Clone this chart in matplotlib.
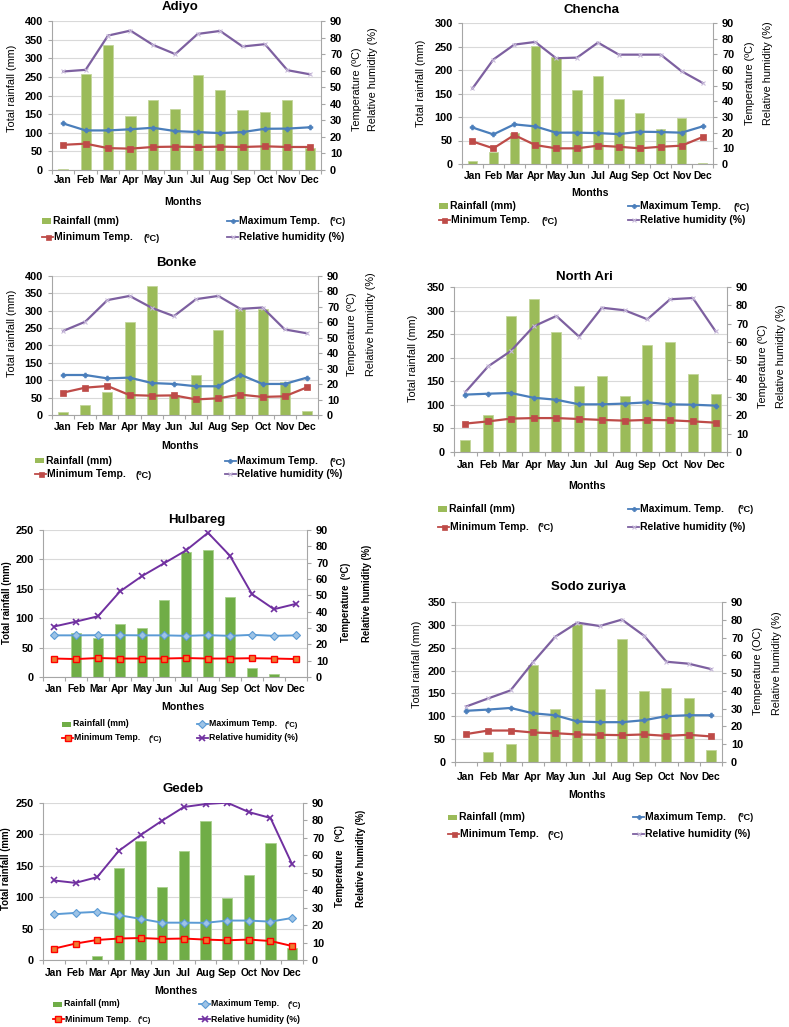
import matplotlib
matplotlib.use('Agg')
import matplotlib.pyplot as plt
from matplotlib.lines import Line2D
from matplotlib.patches import Rectangle
import numpy as np

W, H = 789, 1027
plt.rcParams['font.family'] = ['Liberation Sans', 'DejaVu Sans']

months = ['Jan', 'Feb', 'Mar', 'Apr', 'May', 'Jun', 'Jul', 'Aug', 'Sep', 'Oct', 'Nov', 'Dec']

adiyo_rain = [3, 259, 335, 145, 189, 165, 254, 216, 161, 157, 187, 58]
adiyo_tmax = [28.1, 23.9, 23.9, 24.6, 25.5, 23.5, 22.9, 22.3, 22.9, 24.9, 25.0, 25.8]
adiyo_tmin = [15.2, 15.9, 13.2, 12.9, 13.9, 14.1, 13.9, 14.1, 13.9, 14.3, 13.9, 13.9]
adiyo_rh = [59.5, 60.5, 81.2, 84.2, 75.6, 70.0, 82.2, 84.0, 74.6, 76.0, 60.3, 57.8]

chencha_rain = [6, 26, 67, 252, 228, 158, 187, 139, 109, 75, 97, 3]
chencha_tmax = [23.3, 18.9, 25.3, 24.0, 20.0, 20.0, 19.7, 19.1, 20.6, 20.4, 20.0, 24.0]
chencha_tmin = [14.4, 10.0, 18.5, 12.1, 10.0, 10.0, 11.7, 11.0, 10.0, 11.0, 11.7, 17.2]
chencha_rh = [48.2, 66.7, 76.2, 77.9, 67.5, 67.9, 77.5, 69.8, 69.8, 69.8, 59.2, 51.8]

bonke_rain = [8, 29, 65, 268, 370, 58, 114, 245, 304, 304, 94, 12]
bonke_tmax = [25.9, 25.9, 23.7, 24.2, 20.7, 20.1, 18.6, 18.6, 26.1, 20.1, 20.1, 24.2]
bonke_tmin = [14.5, 17.7, 18.8, 12.9, 12.5, 12.7, 10.1, 10.8, 13.2, 11.7, 12.1, 17.9]
bonke_rh = [54.4, 60.4, 74.4, 77.1, 69.4, 64.0, 75.0, 77.1, 68.7, 69.6, 55.4, 52.9]

north_ari_rain = [25, 79, 288, 325, 255, 140, 161, 118, 228, 233, 166, 122]
north_ari_tmax = [31.3, 31.8, 32.2, 29.6, 28.5, 26.0, 26.0, 26.4, 27.1, 26.0, 25.8, 25.3]
north_ari_tmin = [15.5, 16.7, 18.2, 18.5, 18.5, 18.0, 17.5, 17.1, 17.5, 17.3, 16.7, 16.0]
north_ari_rh = [32.7, 46.7, 55.1, 68.5, 74.2, 62.9, 78.7, 77.3, 72.4, 83.3, 84.0, 65.8]

hulbareg_rain = [0, 74, 66, 90, 83, 131, 213, 216, 136, 15, 4.5, 0]
hulbareg_tmax = [25.5, 25.5, 25.6, 25.6, 25.5, 25.5, 25.2, 25.6, 25.2, 25.8, 25.2, 25.5]
hulbareg_tmin = [11.3, 11.0, 11.6, 11.3, 11.3, 11.3, 11.6, 11.3, 11.3, 11.5, 11.3, 11.0]
hulbareg_rh = [30.9, 33.9, 37.2, 52.4, 61.8, 69.6, 77.5, 88.3, 74.2, 50.7, 41.5, 44.8]

sodo_rain = [0, 21, 40, 212, 116, 301, 160, 270, 155, 161, 140, 26]
sodo_tmax = [28.8, 29.5, 30.4, 27.4, 26.3, 22.8, 22.4, 22.4, 23.5, 25.8, 26.3, 26.3]
sodo_tmin = [15.7, 17.7, 17.7, 16.6, 16.2, 15.5, 15.3, 15.1, 15.5, 14.7, 15.3, 14.4]
sodo_rh = [31.2, 35.8, 40.3, 56.0, 70.4, 78.4, 76.5, 80.1, 71.0, 56.4, 55.3, 52.3]

gedeb_rain = [0, 0, 6, 147, 189, 117, 173, 222, 99, 136, 186, 19]
gedeb_tmax = [26.2, 27.0, 27.6, 25.7, 23.6, 21.4, 21.4, 21.3, 22.6, 22.6, 22.0, 24.1]
gedeb_tmin = [6.5, 9.4, 11.5, 12.3, 12.6, 12.1, 12.3, 11.7, 11.3, 11.7, 10.9, 8.0]
gedeb_rh = [45.6, 44.2, 47.5, 62.6, 71.6, 79.9, 87.7, 89.4, 90.2, 84.8, 81.4, 54.8]

STYLE_A = dict(bar='#9BBB59', baredge='#C3D69B', bw=0.45,
               tmax=dict(color='#4A7EBB', marker='P', ms=3.5, mfc='#4A7EBB', mec='#4A7EBB', mew=0.5),
               tmin=dict(color='#BE4B48', marker='s', ms=4, mfc='#BE4B48', mec='#BE4B48', mew=0.5),
               rh=dict(color='#7D60A0', marker='x', ms=3, mfc='#C9BCDB', mec='#C9BCDB', mew=0.8),
               lw=1.6, bold_ylabels=False, fs_leg=7.5)
STYLE_B = dict(bar='#70AD47', baredge='#A9D18E', bw=0.48,
               tmax=dict(color='#5B9BD5', marker='D', ms=4, mfc='#9DC3E6', mec='#5B9BD5', mew=0.8),
               tmin=dict(color='#FF0000', marker='s', ms=5, mfc='#ED7D31', mec='#FF0000', mew=1.0),
               rh=dict(color='#7030A0', marker='x', ms=4.5, mfc='#7030A0', mec='#7030A0', mew=1.2),
               lw=1.4, bold_ylabels=True, fs_leg=6.3)

panels = [
    dict(name='Adiyo', rain=adiyo_rain, tmax=adiyo_tmax, tmin=adiyo_tmin, rh=adiyo_rh,
         box=(52, 21, 321, 170), ytop=400, style=STYLE_A, title_xy=(180, 7), xl='Months', xl_xy=(183, 202),
         xpad=3.5, ylab=(12, 88), rlab=(357, 373, 131), tlabel='Temperature (ºC)',
         leg=(221, 237, 42, 227, 330, 143), maxlab='Maximum Temp.'),
    dict(name='Chencha', rain=chencha_rain, tmax=chencha_tmax, tmin=chencha_tmin, rh=chencha_rh,
         box=(462, 23, 713, 164), ytop=300, style=STYLE_A, title_xy=(592, 10), xl='Months', xl_xy=(590, 193),
         xpad=5, ylab=(421, 83), rlab=(750, 768, 125), tlabel='Temperature (ºC)',
         leg=(206, 220, 439, 628, 733, 542), maxlab='Maximum Temp.'),
    dict(name='Bonke', rain=bonke_rain, tmax=bonke_tmax, tmin=bonke_tmin, rh=bonke_rh,
         box=(52, 276, 318, 415), ytop=400, style=STYLE_A, title_xy=(176, 263), xl='Months', xl_xy=(180, 446),
         xpad=5, ylab=(12, 333), rlab=(352, 371, 376), tlabel='Temperature (ºC)',
         leg=(461, 474, 35, 225, 330, 135), maxlab='Maximum Temp.'),
    dict(name='North Ari', rain=north_ari_rain, tmax=north_ari_tmax, tmin=north_ari_tmin, rh=north_ari_rh,
         box=(454, 287, 727, 452), ytop=350, style=STYLE_A, title_xy=(584, 277), xl='Months', xl_xy=(587, 486),
         xpad=6, ylab=(413, 358), rlab=(763, 781, 408), tlabel='Temperature (ºC)',
         leg=(509, 527, 438, 628, 737, 538), maxlab='Maximum. Temp.'),
    dict(name='Hulbareg', rain=hulbareg_rain, tmax=hulbareg_tmax, tmin=hulbareg_tmin, rh=hulbareg_rh,
         box=(43, 530, 307, 677), ytop=250, style=STYLE_B, title_xy=(197, 520), xl='Monthes', xl_xy=(183, 707),
         xpad=5, ylab=(7, 603), rlab=(346, 367, 642), tlabel='Temperature  (ºC)',
         leg=(724, 738, 62, 197, 285, 149), maxlab='Maximum Temp.'),
    dict(name='Sodo zuriya', rain=sodo_rain, tmax=sodo_tmax, tmin=sodo_tmin, rh=sodo_rh,
         box=(455, 602, 722, 762), ytop=350, style=STYLE_A, title_xy=(588, 587), xl='Months', xl_xy=(587, 795),
         xpad=7, ylab=(417, 664), rlab=(758, 777, 715), tlabel='Temperature (OC)',
         leg=(817, 834, 448, 633, 737, 548), maxlab='Maximum Temp.'),
    dict(name='Gedeb', rain=gedeb_rain, tmax=gedeb_tmax, tmin=gedeb_tmin, rh=gedeb_rh,
         box=(43, 803, 303, 960), ytop=250, style=STYLE_B, title_xy=(183, 789), xl='Monthes', xl_xy=(176, 991),
         xpad=6, ylab=(6, 869), rlab=(340, 361, 907), tlabel='Temperature   (ºC)',
         leg=(1004, 1019, 53, 199, 288, 138), maxlab='Maximum Temp.'),
]

fig = plt.figure(figsize=(W / 100, H / 100), dpi=100)


def fx(x):
    return x / W


def fy(y):
    return 1 - y / H


GRID = '#D9D9D9'
SPINE = '#A6A6A6'

for p in panels:
    st = p['style']
    l, t, r, b = p['box']
    ax = fig.add_axes([l / W, 1 - b / H, (r - l) / W, (b - t) / H])
    x = np.arange(12)
    ax.bar(x, p['rain'], width=st['bw'], color=st['bar'], edgecolor=st['baredge'], linewidth=0.6, zorder=2)
    ax.set_xlim(-0.5, 11.5)
    ax.set_ylim(0, p['ytop'])
    ax.set_yticks(np.arange(0, p['ytop'] + 1, 50))
    ax.grid(axis='y', color=GRID, linewidth=0.8, zorder=0)
    ax.set_axisbelow(True)
    ax.set_xticks(x)
    ax.set_xticklabels(months)
    ax.set_xticks(np.arange(-0.5, 12, 1), minor=True)
    ax.tick_params(axis='x', which='major', length=0, pad=p['xpad'], labelsize=7.4)
    ax.tick_params(axis='x', which='minor', length=3, color=SPINE, width=0.8)
    ax.tick_params(axis='y', length=3, color=SPINE, width=0.8, pad=3.5, labelsize=7.9)
    for lab in ax.get_xticklabels() + ax.get_yticklabels():
        lab.set_fontweight('bold')
    for s in ['top', 'right']:
        ax.spines[s].set_visible(False)
    for s in ['left', 'bottom']:
        ax.spines[s].set_color(SPINE)
        ax.spines[s].set_linewidth(0.8)

    ax2 = ax.twinx()
    ax2.set_ylim(0, 90)
    ax2.set_yticks(np.arange(0, 91, 10))
    ax2.tick_params(axis='y', length=3, color=SPINE, width=0.8, pad=3.5, labelsize=7.9)
    for lab in ax2.get_yticklabels():
        lab.set_fontweight('bold')
    for s in ['top', 'left', 'bottom']:
        ax2.spines[s].set_visible(False)
    ax2.spines['right'].set_color(SPINE)
    ax2.spines['right'].set_linewidth(0.8)
    lw = st['lw']
    ax2.plot(x, p['rh'], lw=lw, zorder=3, **st['rh'])
    ax2.plot(x, p['tmax'], lw=lw, zorder=4, **st['tmax'])
    ax2.plot(x, p['tmin'], lw=lw, zorder=5, **st['tmin'])

    # titles and labels
    fig.text(fx(p['title_xy'][0]), fy(p['title_xy'][1]), p['name'], ha='center', va='center',
             fontsize=9.5, fontweight='bold')
    fig.text(fx(p['xl_xy'][0]), fy(p['xl_xy'][1]), p['xl'], ha='center', va='center',
             fontsize=7.6, fontweight='bold')
    yw = 'bold' if st['bold_ylabels'] else 'normal'
    yfs = 6.9 if st['bold_ylabels'] else 7.8
    fig.text(fx(p['ylab'][0]), fy(p['ylab'][1]), 'Total rainfall (mm)', rotation=90, ha='center',
             va='center', fontsize=yfs, fontweight=yw)
    r1x, r2x, rbot = p['rlab']
    fig.text(fx(r1x), fy(rbot), p['tlabel'], rotation=90, ha='center', va='bottom',
             fontsize=yfs, fontweight=yw)
    fig.text(fx(r2x), fy(rbot), 'Relative humidity (%)', rotation=90, ha='center', va='bottom',
             fontsize=yfs, fontweight=yw)

    # legend (drawn manually)
    y1, y2, c1, c2, maxu, minu = p['leg']
    fsl = st['fs_leg']
    fig.patches.append(Rectangle((fx(c1), fy(y1 + 2.5)), 9 / W, 5 / H, transform=fig.transFigure,
                                 facecolor=st['bar'], edgecolor='none'))
    fig.text(fx(c1 + 11), fy(y1), 'Rainfall (mm)', ha='left', va='center', fontsize=fsl, fontweight='bold')

    def line_handle(xh, yh, sd):
        fig.lines.append(Line2D([fx(xh), fx(xh + 11)], [fy(yh), fy(yh)], transform=fig.transFigure,
                                color=sd['color'], lw=1.3))
        fig.lines.append(Line2D([fx(xh + 5.5)], [fy(yh)], transform=fig.transFigure, color=sd['color'],
                                marker=sd['marker'], ms=sd['ms'] * 0.9, mfc=sd['mfc'], mec=sd['mec'],
                                mew=sd['mew'], linestyle='none'))

    line_handle(c2, y1, st['tmax'])
    fig.text(fx(c2 + 12), fy(y1), p['maxlab'], ha='left', va='center', fontsize=fsl, fontweight='bold')
    fig.text(fx(maxu), fy(y1 + 1), '(ºC)', ha='left', va='center', fontsize=fsl - 0.8, fontweight='bold')
    line_handle(c1, y2, st['tmin'])
    fig.text(fx(c1 + 12), fy(y2), 'Minimum Temp.', ha='left', va='center', fontsize=fsl, fontweight='bold')
    fig.text(fx(minu), fy(y2 + 1), '(ºC)', ha='left', va='center', fontsize=fsl - 0.8, fontweight='bold')
    line_handle(c2, y2, st['rh'])
    fig.text(fx(c2 + 12), fy(y2), 'Relative humidity (%)', ha='left', va='center', fontsize=fsl,
             fontweight='bold')

fig.savefig('out.png', dpi=100)
